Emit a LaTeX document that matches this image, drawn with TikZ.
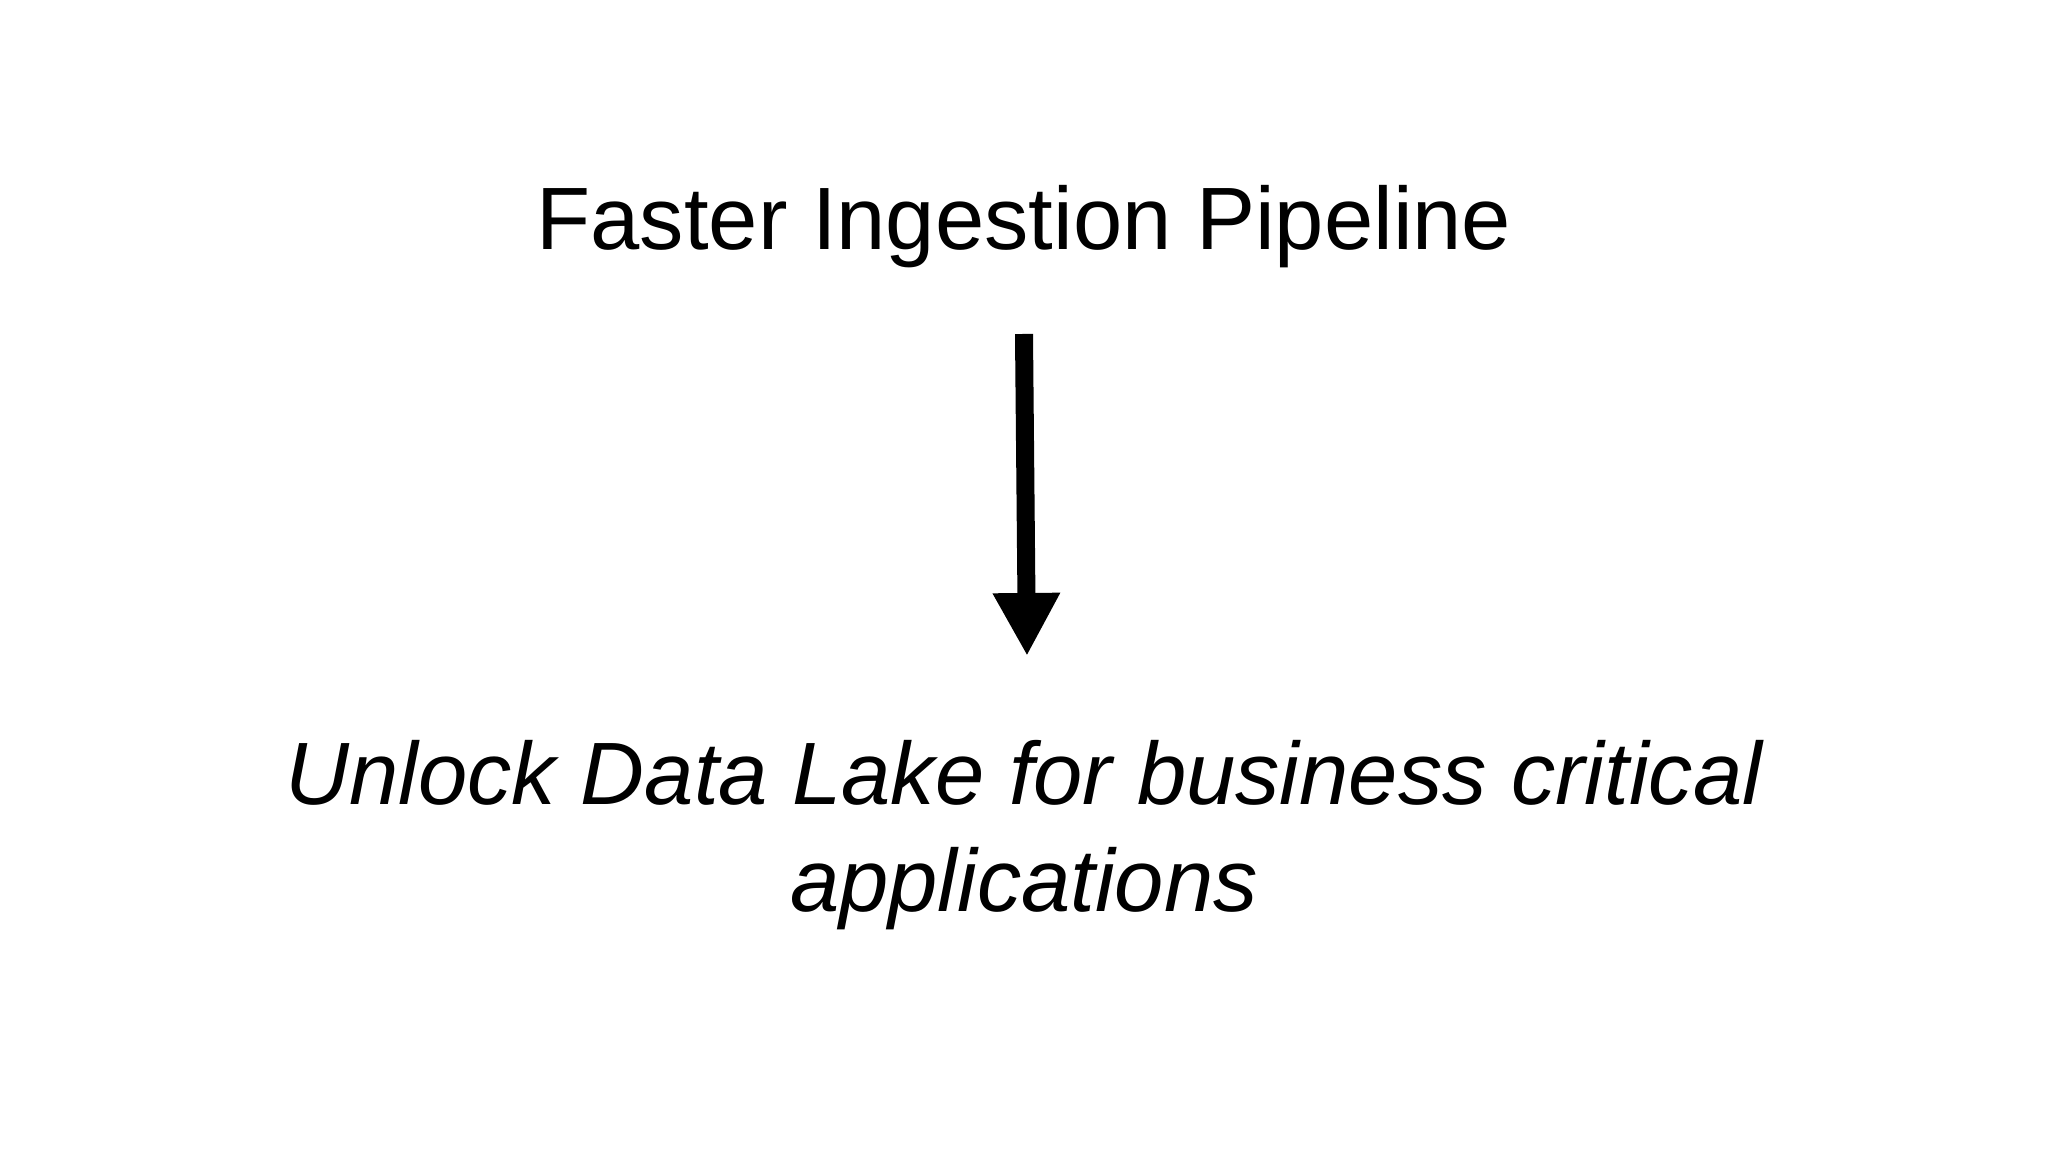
\documentclass[tikz,border=0pt]{standalone}
\usepackage{fontspec}
\setmainfont{Liberation Sans}
\usetikzlibrary{arrows.meta}
\begin{document}
\begin{tikzpicture}
\useasboundingbox[fill=white] (0,0) rectangle (20.48,11.52);
\tikzset{big/.style={font=\fontsize{25.2}{30.5}\selectfont, align=center, inner sep=0pt}}
\node[big] (top) at (10.24,9.25) {Faster Ingestion Pipeline};
\node[big, font=\fontsize{25.2}{30.5}\selectfont\itshape] (bot) at (10.24,3.17) {Unlock Data Lake for business critical\\applications};
\coordinate (as) at (10.24,8.18);
\coordinate (ae) at (10.27,4.96);
\draw[line width=0.18cm, -{Triangle[width=0.63cm,length=0.63cm]}] (as) -- (ae);
\end{tikzpicture}
\end{document}
